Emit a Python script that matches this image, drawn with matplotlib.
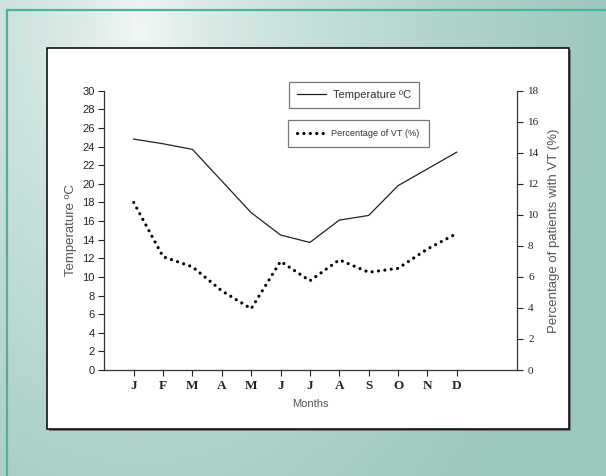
import numpy as np
import matplotlib
matplotlib.use('Agg')
import matplotlib.pyplot as plt
from matplotlib.patches import Rectangle
from matplotlib.lines import Line2D

# data
months = ['J', 'F', 'M', 'A', 'M', 'J', 'J', 'A', 'S', 'O', 'N', 'D']
temperature = [24.8, 24.3, 23.7, 20.3, 16.9, 14.5, 13.7, 16.1, 16.6, 19.8, 21.6, 23.4]
vt_pct = [10.8, 7.3, 6.65, 5.1, 3.95, 7.0, 5.75, 7.1, 6.3, 6.55, 7.8, 8.8]

temp_ticks = list(range(0, 31, 2))
pct_ticks = list(range(0, 19, 2))

W, H = 606, 476
fig = plt.figure(figsize=(W / 100, H / 100), dpi=100)

# background gradient
bg = fig.add_axes([0, 0, 1, 1], zorder=-10)
yy, xx = np.mgrid[0:H, 0:W]
d = np.sqrt(((xx - 140) / 470.0) ** 2 + ((yy - 30) / 640.0) ** 2)
t = np.clip(d, 0, 1) ** 0.65
light = np.array([0xf5, 0xf9, 0xf8]) / 255
teal = np.array([0x9c, 0xc7, 0xbe]) / 255
img = light[None, None, :] * (1 - t[..., None]) + teal[None, None, :] * t[..., None]
bg.imshow(img, extent=[0, W, H, 0], aspect='auto')
bg.set_xlim(0, W)
bg.set_ylim(H, 0)
bg.axis('off')
bg.plot([7, 7, W], [H, 9.5, 9.5], color='#4cb39b', lw=1.6)
# shadow + white panel
bg.add_patch(Rectangle((49, 49.5), 522, 381, facecolor='#777777', edgecolor='none'))
bg.add_patch(Rectangle((47, 47.5), 522, 381, facecolor='white', edgecolor='black', lw=1.1))

ax = fig.add_axes([104.3 / W, 1 - 370 / H, (517 - 104.3) / W, (370 - 90.7) / H])
ax.patch.set_alpha(0)
x = np.arange(1, len(months) + 1)
ax.plot(x, temperature, color='#222222', lw=0.9)
ax.set_xlim(0, 14.05)
ax.set_ylim(0, 30)
ax.set_yticks(temp_ticks)
ax.set_xticks(x)
ax.set_xticklabels(months, family='Liberation Serif', fontsize=9.5, fontweight='bold', color='#222222')
ax.tick_params(axis='y', labelsize=8, direction='out', length=4, width=0.8, colors='#222222', pad=3)
ax.tick_params(axis='x', direction='out', length=4, width=0.8, colors='#222222', pad=3)
for lab in ax.get_yticklabels():
    lab.set_family('Liberation Sans')
ax.spines['top'].set_visible(False)
ax.spines['right'].set_visible(False)
for s in ['left', 'bottom']:
    ax.spines[s].set_color('#333333')
    ax.spines[s].set_linewidth(0.9)
ax.set_ylabel('Temperature ºC', family='Liberation Sans', fontsize=9.5, color='#555555', labelpad=4)
ax.set_xlabel('Months', family='Liberation Sans', fontsize=8, color='#555555', labelpad=5)

ax2 = ax.twinx()
ax2.plot(x, vt_pct, color='black', lw=2.3, linestyle=(0, (0.01, 2.0)), dash_capstyle='round')
ax2.set_ylim(0, 18)
ax2.set_yticks(pct_ticks)
ax2.tick_params(axis='y', labelsize=8, direction='out', length=4, width=0.8, colors='#222222', pad=4)
for lab in ax2.get_yticklabels():
    lab.set_family('Liberation Serif')
for s in ['top', 'left', 'bottom']:
    ax2.spines[s].set_visible(False)
ax2.spines['right'].set_color('#333333')
ax2.spines['right'].set_linewidth(0.9)
ax2.set_ylabel('Percentage of patients with VT (%)', family='Liberation Sans', fontsize=9.5,
               color='#555555', labelpad=6)

# legends (two separate boxes)
h1 = Line2D([], [], color='#222222', lw=0.9)
leg1 = fig.legend([h1], ['Temperature ºC'], loc='upper left',
                  bbox_to_anchor=(289 / W, 1 - 81.5 / H), frameon=True, fancybox=False,
                  prop={'family': 'Liberation Sans', 'size': 8}, handlelength=2.6,
                  handletextpad=0.6, borderpad=0.75, borderaxespad=0)
leg1.get_frame().set_edgecolor('#555555')
leg1.get_frame().set_linewidth(0.9)
for tx in leg1.get_texts():
    tx.set_color('#333333')

h2 = Line2D([], [], color='black', lw=2.3, linestyle=(0, (0.01, 2.0)), dash_capstyle='round')
leg2 = fig.legend([h2], ['Percentage of VT (%)'], loc='upper left',
                  bbox_to_anchor=(288 / W, 1 - 120 / H), frameon=True, fancybox=False,
                  prop={'family': 'Liberation Sans', 'size': 6.6},
                  handlelength=3.0, handletextpad=0.7, borderpad=1.0, borderaxespad=0)
leg2.get_frame().set_edgecolor('#555555')
leg2.get_frame().set_linewidth(0.9)
for tx in leg2.get_texts():
    tx.set_color('#333333')

fig.savefig('out.png', dpi=100)
